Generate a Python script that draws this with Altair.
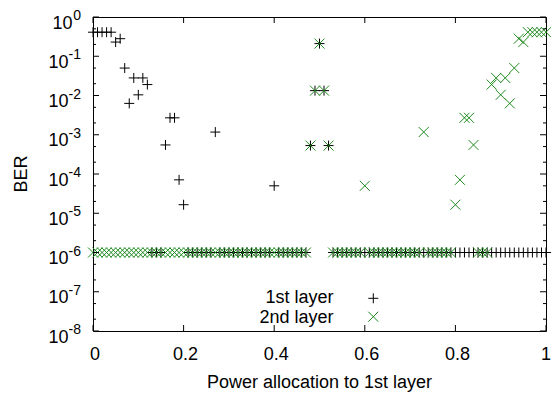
import altair as alt
import pandas as pd

F = 1e-6  # floor level where BER points sit

power = [
    0.00, 0.01, 0.02, 0.03, 0.04, 0.05, 0.06, 0.07, 0.08, 0.09,
    0.10, 0.11, 0.12, 0.13, 0.14, 0.15, 0.16, 0.17, 0.18, 0.19,
    0.20, 0.21, 0.22, 0.23, 0.24, 0.25, 0.26, 0.27, 0.28, 0.29,
    0.30, 0.31, 0.32, 0.33, 0.34, 0.35, 0.36, 0.37, 0.38, 0.39,
    0.40, 0.41, 0.42, 0.43, 0.44, 0.45, 0.46, 0.47, 0.48, 0.49,
    0.50, 0.51, 0.52, 0.53, 0.54, 0.55, 0.56, 0.57, 0.58, 0.59,
    0.60, 0.61, 0.62, 0.63, 0.64, 0.65, 0.66, 0.67, 0.68, 0.69,
    0.70, 0.71, 0.72, 0.73, 0.74, 0.75, 0.76, 0.77, 0.78, 0.79,
    0.80, 0.81, 0.82, 0.83, 0.84, 0.85, 0.86, 0.87, 0.88, 0.89,
    0.90, 0.91, 0.92, 0.93, 0.94, 0.95, 0.96, 0.97, 0.98, 0.99,
    1.00,
]

ber_layer1 = [
    0.41, 0.41, 0.41, 0.41, 0.41, 0.23, 0.28, 0.05, 0.0063, 0.028,
    0.0104, 0.028, 0.019, F, F, F, 5.5e-4, 2.7e-3, 2.7e-3, 7.1e-5,
    1.65e-5, F, F, F, F, F, F, 1.17e-3, F, F,
    F, F, F, F, F, F, F, F, F, F,
    5e-5, F, F, F, F, F, F, F, 5.3e-4, 0.0133,
    0.21, 0.0133, 5.3e-4, F, F, F, F, F, F, F,
    F, F, F, F, F, F, F, F, F, F,
    F, F, F, F, F, F, F, F, F, F,
    F, F, F, F, F, F, F, F, F, F,
    F, F, F, F, F, F, F, F, F, F,
    F,
]

ber_layer2 = [
    F, F, F, F, F, F, F, F, F, F,
    F, F, F, F, F, F, F, F, F, F,
    F, F, F, F, F, F, F, F, F, F,
    F, F, F, F, F, F, F, F, F, F,
    F, F, F, F, F, F, F, F, 5.3e-4, 0.0133,
    0.21, 0.0133, 5.3e-4, F, F, F, F, F, F, F,
    5e-5, F, F, F, F, F, F, F, F, F,
    F, F, F, 1.17e-3, F, F, F, F, F, F,
    1.65e-5, 7.1e-5, 2.7e-3, 2.7e-3, 5.5e-4, F, F, F, 0.019, 0.028,
    0.0104, 0.028, 0.0063, 0.05, 0.28, 0.23, 0.41, 0.41, 0.41, 0.41,
    0.41,
]

series_names = ["1st layer", "2nd layer"]
series_colors = ["#000000", "#1f8a1f"]

y_exponents = [0, -1, -2, -3, -4, -5, -6, -7, -8]
y_major = [1, 1e-1, 1e-2, 1e-3, 1e-4, 1e-5, 1e-6, 1e-7, 1e-8]
y_minor = [0.5, 0.2, 0.05, 0.02, 5e-3, 2e-3, 5e-4, 2e-4, 5e-5, 2e-5,
           5e-6, 2e-6, 5e-7, 2e-7, 5e-8, 2e-8]
x_ticks = [0, 0.2, 0.4, 0.6, 0.8, 1.0]
x_tick_labels = ["0", "0.2", "0.4", "0.6", "0.8", "1"]
x_title = "Power allocation to 1st layer"
y_title = "BER"

FONT = "Liberation Sans"
W, H = 453, 314
PLUS = "M-1,0L1,0M0,-1L0,1"
CROSS = "M-1,-1L1,1M-1,1L1,-1"

xs = alt.Scale(domain=[0, 1], nice=False, zero=False)
ys = alt.Scale(type="log", domain=[1e-8, 1], nice=False)

df1 = pd.DataFrame({"p": power, "ber": ber_layer1})
df2 = pd.DataFrame({"p": power, "ber": ber_layer2})
ymaj = pd.DataFrame({"v": y_major, "e": y_exponents})
ymaj["e_txt"] = ymaj["e"].astype(str)
ymin = pd.DataFrame({"v": y_minor})
xt = pd.DataFrame({"p": x_ticks, "lab": x_tick_labels})

X = alt.X("p:Q", scale=xs, axis=None)
Yb = alt.Y("ber:Q", scale=ys, axis=None)
Yv = alt.Y("v:Q", scale=ys, axis=None)

pts1 = alt.Chart(df1).mark_point(shape=PLUS, filled=False, size=100, strokeWidth=1,
                                 color=series_colors[0], opacity=1).encode(x=X, y=Yb)
pts2 = alt.Chart(df2).mark_point(shape=CROSS, filled=False, size=100, strokeWidth=1,
                                 color=series_colors[1], opacity=1).encode(x=X, y=Yb)

tick_style = dict(color="black", strokeWidth=1)
ymaj_l = alt.Chart(ymaj).mark_rule(**tick_style).encode(y=Yv, x=alt.value(0), x2=alt.value(6))
ymaj_r = alt.Chart(ymaj).mark_rule(**tick_style).encode(y=Yv, x=alt.value(W - 6), x2=alt.value(W))
ymin_l = alt.Chart(ymin).mark_rule(**tick_style).encode(y=Yv, x=alt.value(0), x2=alt.value(3))
ymin_r = alt.Chart(ymin).mark_rule(**tick_style).encode(y=Yv, x=alt.value(W - 3), x2=alt.value(W))
xt_b = alt.Chart(xt).mark_rule(**tick_style).encode(x=X, y=alt.value(H - 6), y2=alt.value(H))
xt_t = alt.Chart(xt).mark_rule(**tick_style).encode(x=X, y=alt.value(0), y2=alt.value(6))

xlab = alt.Chart(xt).transform_filter("datum.p < 1").mark_text(
    font=FONT, fontSize=18, baseline="alphabetic", align="center", dx=2, color="black"
).encode(x=X, y=alt.value(342.5), text="lab:N")
xlab_end = alt.Chart(xt).transform_filter("datum.p >= 1").mark_text(
    font=FONT, fontSize=18, baseline="alphabetic", align="center", dx=0, color="black"
).encode(x=X, y=alt.value(342.5), text="lab:N")

ten0 = alt.Chart(ymaj).transform_filter("datum.e == 0").mark_text(
    font=FONT, fontSize=18, baseline="alphabetic", align="right", dy=11.5, color="black"
).encode(y=Yv, x=alt.value(-20.5), text=alt.value("10"))
tenN = alt.Chart(ymaj).transform_filter("datum.e != 0").mark_text(
    font=FONT, fontSize=18, baseline="alphabetic", align="right", dy=11.5, color="black"
).encode(y=Yv, x=alt.value(-24.5), text=alt.value("10"))
expo = alt.Chart(ymaj).mark_text(
    font=FONT, fontSize=14, baseline="alphabetic", align="right", dy=3, color="black"
).encode(y=Yv, x=alt.value(-12), text="e_txt:N")

title_df = pd.DataFrame({"t": [x_title]})
ytitle_df = pd.DataFrame({"t": [y_title]})
xtitle = alt.Chart(title_df).mark_text(font=FONT, fontSize=18, baseline="alphabetic",
                                       align="center", color="black").encode(
    x=alt.value(W / 2), y=alt.value(371), text="t:N")
ytitle = alt.Chart(ytitle_df).mark_text(font=FONT, fontSize=18, baseline="middle",
                                        align="center", angle=270, color="black").encode(
    x=alt.value(-71.5), y=alt.value(H / 2), text="t:N")

leg_df1 = pd.DataFrame({"t": [series_names[0]]})
leg_df2 = pd.DataFrame({"t": [series_names[1]]})
leg_t1 = alt.Chart(leg_df1).mark_text(font=FONT, fontSize=18, baseline="alphabetic",
                                      align="right", color="black").encode(
    x=alt.value(240.5), y=alt.value(286), text="t:N")
leg_t2 = alt.Chart(leg_df2).mark_text(font=FONT, fontSize=18, baseline="alphabetic",
                                      align="right", color="black").encode(
    x=alt.value(240.5), y=alt.value(306), text="t:N")
leg_p1 = alt.Chart(leg_df1).mark_point(shape=PLUS, filled=False, size=100, strokeWidth=1,
                                       color=series_colors[0], opacity=1).encode(
    x=alt.value(280.3), y=alt.value(281.3))
leg_p2 = alt.Chart(leg_df2).mark_point(shape=CROSS, filled=False, size=100, strokeWidth=1,
                                       color=series_colors[1], opacity=1).encode(
    x=alt.value(280.3), y=alt.value(299.7))

chart = alt.layer(
    pts1, pts2,
    ymaj_l, ymaj_r, ymin_l, ymin_r, xt_b, xt_t,
    xlab, xlab_end, ten0, tenN, expo, xtitle, ytitle,
    leg_t1, leg_t2, leg_p1, leg_p2,
).properties(
    width=W, height=H,
    autosize=alt.AutoSizeParams(type="none"),
    padding={"left": 85, "top": 9, "right": 5, "bottom": 62},
    background="white",
).configure_view(stroke="black", strokeWidth=1)

chart.save("out.html", embed_options={"renderer": "svg", "actions": False})
